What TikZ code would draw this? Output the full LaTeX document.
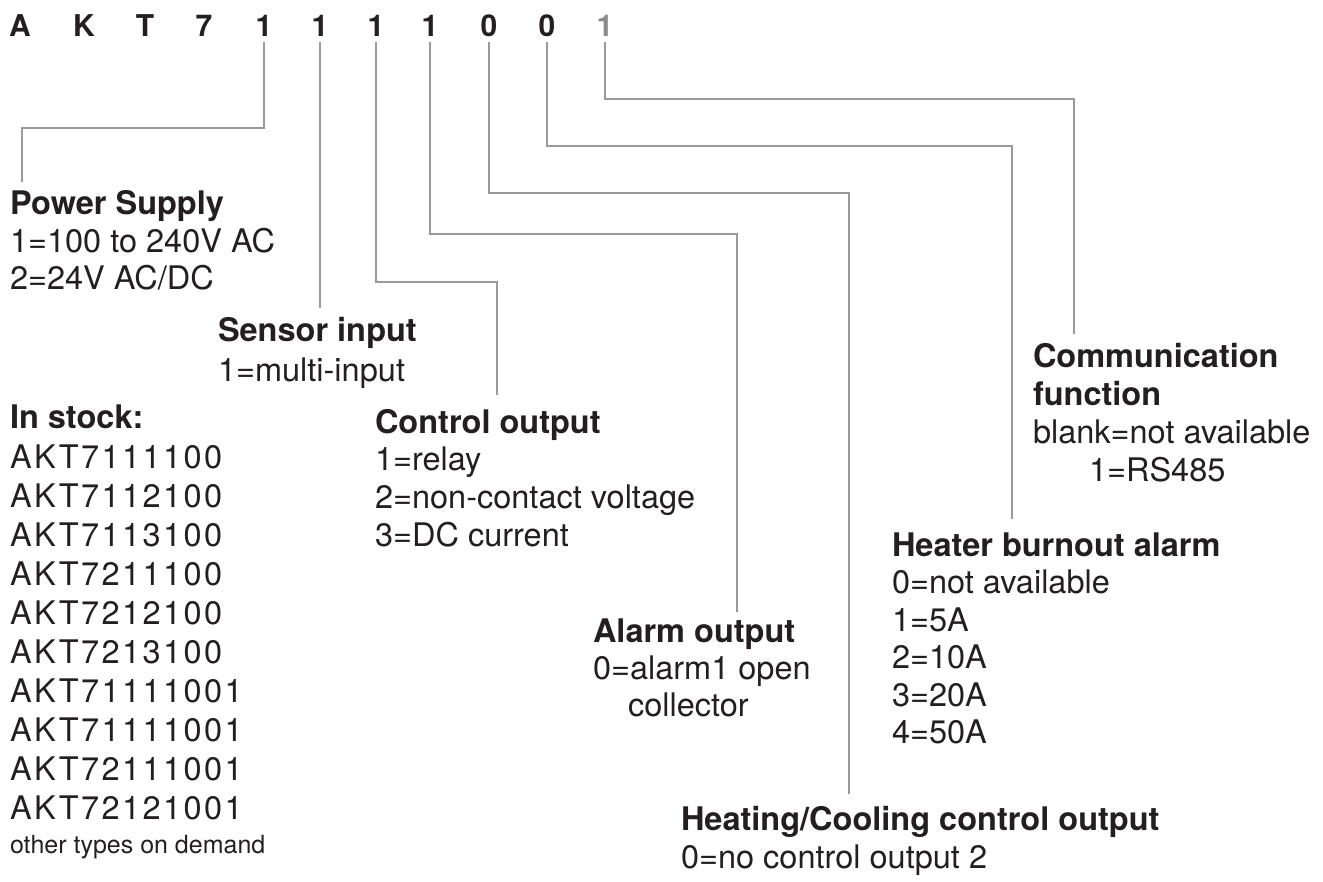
\documentclass[tikz,border=0pt]{standalone}
\usepackage{fontspec}
\setmainfont{TeX Gyre Heros}
\newfontfamily\codefont[LetterSpace=7.5]{TeX Gyre Heros}
\definecolor{ink}{HTML}{231F20}
\definecolor{linegray}{HTML}{9A9A9A}
\definecolor{digitgray}{HTML}{8C8C8C}
\begin{document}
\begin{tikzpicture}[x=1pt,y=-1pt,
  every node/.style={inner sep=0pt, outer sep=0pt, anchor=base west, text=ink},
  digit/.style={anchor=base, font=\fontsize{30}{30}\selectfont\bfseries},
  head/.style={font=\fontsize{32.5}{36}\selectfont\bfseries},
  body/.style={font=\fontsize{32.5}{36}\selectfont},
  code/.style={font=\fontsize{32.5}{36}\selectfont\codefont},
  small/.style={font=\fontsize{25}{30}\selectfont},
  conn/.style={draw=linegray, line width=1.2pt}]
\useasboundingbox (0,0) rectangle (1323,882);

% top code row
\node[digit] (d1) at (20,37) {A};
\node[digit] (d2) at (84,37) {K};
\node[digit] (d3) at (145,37) {T};
\node[digit] (d4) at (204,37) {7};
\node[digit] (d5) at (264,37) {1};
\node[digit] (d6) at (320,37) {1};
\node[digit] (d7) at (376,37) {1};
\node[digit] (d8) at (430,37) {1};
\node[digit] (d9) at (489,37) {0};
\node[digit] (d10) at (547,37) {0};
\node[digit, text=digitgray] (d11) at (605,37) {1};

% Power supply
\node[head] (ps0) at (10,215) {Power Supply};
\node[body] (ps1) at (10,253) {1=100 to 240V AC};
\node[body] (ps2) at (10,290) {2=24V AC/DC};

% Sensor input
\node[head] (si0) at (218,342) {Sensor input};
\node[body] (si1) at (218,382) {1=multi-input};

% In stock
\node[head] (st0) at (10,429) {In stock:};
\node[code] (st1) at (10,468) {AKT7111100};
\node[code] (st2) at (10,507) {AKT7112100};
\node[code] (st3) at (10,546) {AKT7113100};
\node[code] (st4) at (10,585) {AKT7211100};
\node[code] (st5) at (10,624) {AKT7212100};
\node[code] (st6) at (10,663) {AKT7213100};
\node[code] (st7) at (10,702) {AKT71111001};
\node[code] (st8) at (10,741) {AKT71111001};
\node[code] (st9) at (10,780) {AKT72111001};
\node[code] (st10) at (10,819) {AKT72121001};
\node[small] (st11) at (10,853) {other types on demand};

% Control output
\node[head] (co0) at (375,434) {Control output};
\node[body] (co1) at (375,471) {1=relay};
\node[body] (co2) at (375,508.5) {2=non-contact voltage};
\node[body] (co3) at (375,546) {3=DC current};

% Alarm output
\node[head] (al0) at (593,642) {Alarm output};
\node[body] (al1) at (593,679) {0=alarm1 open};
\node[body] (al2) at (628,716) {collector};

% Communication function
\node[head] (cf0) at (1033,368) {Communication};
\node[head] (cf1) at (1033,406) {function};
\node[body] (cf2) at (1033,444) {blank=not available};
\node[body] (cf3) at (1089,482) {1=RS485};

% Heater burnout alarm
\node[head] (hb0) at (892,556) {Heater burnout alarm};
\node[body] (hb1) at (892,593.5) {0=not available};
\node[body] (hb2) at (892,631) {1=5A};
\node[body] (hb3) at (892,668.5) {2=10A};
\node[body] (hb4) at (892,706) {3=20A};
\node[body] (hb5) at (892,743.5) {4=50A};

% Heating/Cooling control output
\node[head] (hc0) at (681,830) {Heating/Cooling control output};
\node[body] (hc1) at (681,868) {0=no control output 2};

% connector bend and end points
\coordinate (pwA) at (22,128);   \coordinate (pwB) at (22,182);
\coordinate (snB) at (320,308);
\coordinate (coA) at (497,282);  \coordinate (coB) at (497,395);
\coordinate (alA) at (737,234);  \coordinate (alB) at (737,612);
\coordinate (hcA) at (849,193);  \coordinate (hcB) at (849,794);
\coordinate (hbA) at (1012,146); \coordinate (hbB) at (1012,519);
\coordinate (cmA) at (1074,99);  \coordinate (cmB) at (1074,334);

\draw[conn] ([yshift=-5pt]d5.base) |- (pwA) -- (pwB);
\draw[conn] ([yshift=-5pt]d6.base) -- (snB);
\draw[conn] ([yshift=-5pt]d7.base) |- (coA) -- (coB);
\draw[conn] ([yshift=-5pt]d8.base) |- (alA) -- (alB);
\draw[conn] ([yshift=-5pt]d9.base) |- (hcA) -- (hcB);
\draw[conn] ([yshift=-5pt]d10.base) |- (hbA) -- (hbB);
\draw[conn] ([yshift=-5pt]d11.base) |- (cmA) -- (cmB);
\end{tikzpicture}
\end{document}
